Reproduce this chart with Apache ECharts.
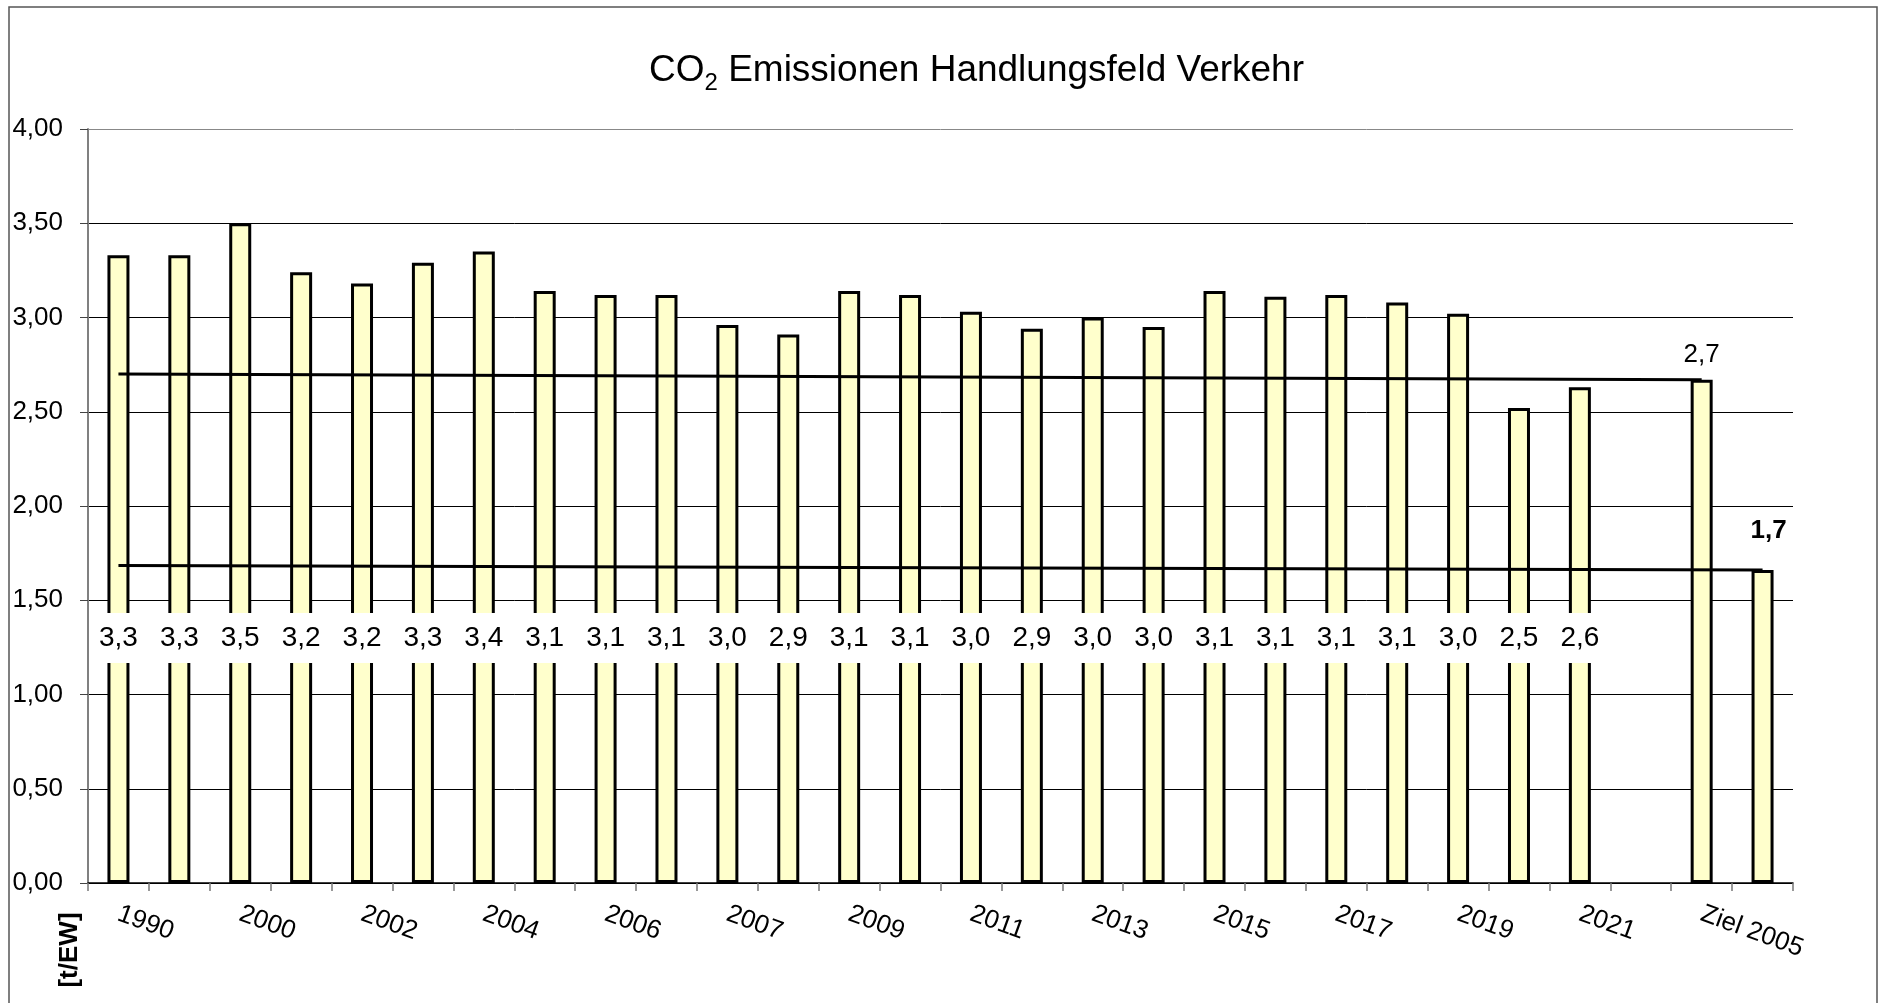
<!DOCTYPE html>
<html>
<head>
<meta charset="utf-8">
<script src="https://cdn.jsdelivr.net/npm/echarts@6/dist/echarts.min.js"></script>
<style>
html,body{margin:0;padding:0;background:#fff;}
#chart{width:1883px;height:1003px;}
</style>
</head>
<body>
<div id="chart"></div>
<script>
// ---- data ----
const categories = ['1990','1995','2000','2001','2002','2003','2004','2005','2006','2006b','2007','2008','2009','2010','2011','2012','2013','2014','2015','2016','2017','2018','2019','2020','2021',' ','Ziel 2005','Ziel 2030'];
const values = [3.33,3.33,3.50,3.24,3.18,3.29,3.35,3.14,3.12,3.12,2.96,2.91,3.14,3.12,3.03,2.94,3.00,2.95,3.14,3.11,3.12,3.08,3.02,2.52,2.63,null,2.67,1.66];
const targetLine1 = [['1990', 2.70], ['Ziel 2005', 2.67]];
const targetLine2 = [['1990', 1.685], ['Ziel 2030', 1.66]];
const topLabelCats = ['Ziel 2005', 'Ziel 2030'];
const boldLabelCats = ['Ziel 2030'];
const titleMain = 'Emissionen Handlungsfeld Verkehr';
const yUnit = '[t/EW]';

const FONT = '"Liberation Sans", Arial, sans-serif';
const fmt1 = v => (Math.round(v * 10) / 10).toFixed(1).replace('.', ',');

const barData = values.map((v, i) => {
  const cat = categories[i];
  if (v == null) return null;
  if (topLabelCats.includes(cat)) {
    const bold = boldLabelCats.includes(cat);
    return {
      value: v,
      label: {
        show: true, position: 'top',
        distance: bold ? 26 : 12,
        offset: bold ? [6, 0] : [0, 0],
        backgroundColor: 'transparent', padding: 0,
        fontSize: 26,
        fontWeight: bold ? 'bold' : 'normal'
      }
    };
  }
  return v;
});

const chart = echarts.init(document.getElementById('chart'), null, {renderer: 'canvas'});
chart.setOption({
  backgroundColor: '#fff',
  animation: false,
  textStyle: {fontFamily: FONT},
  title: {
    text: 'CO{sub|2} ' + titleMain,
    left: 644, top: 42,
    textStyle: {
      fontFamily: FONT, fontSize: 37, fontWeight: 'normal', color: '#000',
      lineHeight: 48,
      rich: {
        sub: {fontFamily: FONT, fontSize: 24, color: '#000', lineHeight: 48, verticalAlign: 'bottom'}
      }
    }
  },
  graphic: [
    {type: 'rect', shape: {x: 9, y: 7, width: 1868, height: 1010}, style: {fill: 'none', stroke: '#555', lineWidth: 1.5}, silent: true},
    {type: 'text', x: 70, y: 950, rotation: Math.PI / 2,
      style: {text: yUnit, font: 'bold 26px ' + FONT, fill: '#000', align: 'center', verticalAlign: 'middle'}}
  ],
  grid: {left: 88, right: 90, top: 129, bottom: 120, containLabel: false},
  xAxis: {
    type: 'category',
    data: categories,
    boundaryGap: true,
    axisLine: {show: true, lineStyle: {color: '#000', width: 1.5}},
    axisTick: {show: true, interval: 0, length: 8, lineStyle: {color: '#777', width: 1.5}},
    axisLabel: {interval: 1, rotate: -20, margin: 30, fontSize: 26, color: '#000', fontFamily: FONT},
    splitLine: {show: false}
  },
  yAxis: {
    type: 'value',
    min: 0, max: 4, interval: 0.5,
    axisLine: {show: true, lineStyle: {color: '#808080', width: 2}},
    axisTick: {show: true, length: 8, lineStyle: {color: '#444', width: 1}},
    axisLabel: {margin: 25, fontSize: 26, color: '#000', fontFamily: FONT,
      formatter: v => v.toFixed(2).replace('.', ',')},
    splitLine: {show: true, lineStyle: {color: ['#000','#000','#000','#000','#000','#000','#000','#000','#888'], width: 1}}
  },
  series: [
    {
      type: 'bar',
      data: barData,
      barWidth: 22,
      itemStyle: {color: '#FFFFCC', borderColor: '#000', borderWidth: 3},
      label: {
        show: true,
        position: 'insideBottom',
        distance: 220,
        formatter: p => p.value == null ? '' : fmt1(p.value),
        fontSize: 28, color: '#000', fontFamily: FONT,
        backgroundColor: '#fff',
        padding: [11, 4, 11, 4]
      },
      z: 2
    },
    {
      type: 'line',
      data: targetLine1,
      symbol: 'none',
      lineStyle: {color: '#000', width: 3},
      z: 3
    },
    {
      type: 'line',
      data: targetLine2,
      symbol: 'none',
      lineStyle: {color: '#000', width: 3},
      z: 3
    }
  ]
});
</script>
</body>
</html>
